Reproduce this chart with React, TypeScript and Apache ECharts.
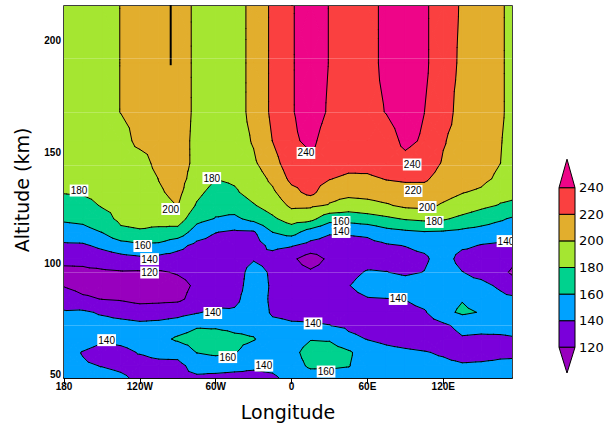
import React, { useEffect, useRef } from 'react';
import * as echarts from 'echarts';

// ---- grid coordinates ----
const lons = [-180, -165, -150, -135, -120, -105, -90, -75, -60, -45, -30, -15, 0, 15, 30, 45, 60, 75, 90, 105, 120, 135, 150, 165, 180];
const alts = [216, 190, 168, 155, 145, 138, 132, 126, 120, 114, 108, 102, 96, 90, 84, 78, 72, 66, 60, 54, 48];

// ---- temperature rows (one per altitude, west to east) ----
const t216 = [190, 190, 192, 200.5, 206, 208, 208, 196.7, 190, 192.7, 205, 224, 239, 246, 239.6, 232, 236, 242.9, 246, 243, 230, 217.7, 210, 202.5, 191];
const t190 = [190, 190, 192, 200.5, 206, 208, 208, 196.7, 190, 192.7, 205, 224, 239, 246, 239.6, 232, 236, 242.9, 246, 243, 230, 216, 210, 202.5, 191];
const t168 = [190, 190, 192, 200.5, 206, 208, 208, 196.7, 190, 192.7, 205, 224, 239, 246, 238.5, 232, 236, 240.5, 246, 240.1, 230, 211, 209, 202.5, 191];
const t155 = [188, 189, 191, 191.6, 206, 207, 207, 195.9, 190, 192, 201.5, 220.3, 237.6, 243, 234, 229, 230, 234, 243, 238.3, 221.5, 212, 210, 201, 191];
const t145 = [186, 187, 189, 190, 190.3, 207, 207, 196, 188, 190, 197.2, 212, 232, 236, 235, 229, 228, 234, 236, 232, 218, 212, 208, 200.2, 190];
const t138 = [184, 185, 187, 188, 188, 200.5, 207, 192, 180.2, 183, 190.5, 204, 225, 228, 221, 215, 216, 221, 223, 223, 212, 210, 205, 196, 188];
const t132 = [181, 182, 185, 186, 186, 197.8, 205, 185, 172.9, 177.5, 188, 197, 214, 226, 207, 206, 207, 210, 212, 212, 207, 201, 197, 186, 184];
const t126 = [173, 174, 181.3, 184, 184, 194, 200.5, 178, 166, 167.8, 178.5, 189, 203.5, 203, 198.5, 191.3, 193.8, 198, 203.8, 205, 197.8, 191.2, 184.4, 178.8, 176];
const t120 = [163, 165, 173.3, 184, 186, 187, 190, 166.3, 159, 156.4, 165.5, 176.6, 189, 186, 167, 167.4, 171.4, 176.2, 181.5, 184, 182.2, 175.2, 169, 162.4, 155];
const t114 = [150.5, 153, 160.3, 176, 178, 175.1, 172.2, 150.2, 140.5, 137, 138, 160.2, 167.5, 151, 142, 142.5, 144, 153, 156.4, 158.9, 158, 155.3, 152.4, 149, 146.4];
const t108 = [137, 137.4, 144.1, 151.4, 156.5, 155.8, 145.6, 135, 132, 130, 132, 145, 141.5, 134, 132, 132, 134, 138, 140.5, 145, 150, 143.6, 139, 137, 135];
const t102 = [125.4, 125.2, 130, 133.5, 135.9, 133.8, 132, 130, 128, 128, 138, 132, 124, 110, 124, 127, 130, 133, 134, 136.5, 150, 132, 132, 130, 124];
const t96 = [115, 116, 117, 118.5, 118, 118, 121.6, 126, 126, 128, 150, 136, 128, 123, 128, 133, 142, 140.5, 136.5, 140.5, 152, 140.5, 134, 126, 112];
const t90 = [119, 114, 113, 112, 110, 110, 114, 123, 126, 130, 152, 137, 132, 131, 130, 139, 150, 153, 150, 154, 156, 146, 145, 137, 126];
const t84 = [129.9, 122.9, 119.5, 118, 114, 115, 116, 127, 129, 135, 152, 136, 136, 135, 133, 133, 138.5, 139.5, 140.5, 147, 153, 159, 152, 145, 142];
const t78 = [142, 143, 137.6, 133.2, 130.6, 131, 133.5, 138.5, 144, 143, 152, 137.5, 136, 136, 136, 134, 132, 132, 134, 138, 155, 163, 159, 148, 147];
const t72 = [148, 149, 148, 147, 144.5, 146, 150, 158, 157, 155, 155, 145, 142, 141.5, 140.3, 137, 134, 131, 130, 131, 136, 146, 145, 146, 147];
const t66 = [150, 150, 143, 144, 147, 154, 163, 168, 170, 164, 161, 150, 150, 159, 158, 144, 139.5, 136, 133, 131, 130, 138, 137, 137, 139];
const t60 = [148, 139, 133, 136, 141, 145, 146, 160.5, 164, 161, 152, 152, 154, 168, 170, 163, 149, 145, 143, 141, 138, 133, 133, 136, 137];
const t54 = [146, 142, 139.5, 137, 134, 135, 135, 147, 148, 146, 143, 145, 152, 163, 163, 161, 150, 148, 147, 145, 144, 142, 143, 144, 144];
const t48 = [145, 144, 146, 143, 137, 136, 137, 136, 134, 133, 134, 136, 146, 150, 150, 150, 151, 150, 149, 148, 147, 146, 146, 146, 146];

// ---- contour levels / colours ----
const levels = [120, 140, 160, 180, 200, 220, 240];
const bandColors = ['#9800BE', '#7A00DA', '#00A2FF', '#00D28E', '#A5E631', '#E2AE2D', '#FA4040', '#EE0588'];

// ---- axes ----
const xTickValues = [-180, -120, -60, 0, 60, 120];
const xTickLabels = ['180', '120W', '60W', '0', '60E', '120E'];
const yTickValues = [50, 100, 150, 200];

// ---- contour labels [lon, alt, text] ----
const labelLon = [-168.1, -95.6, -63.1, 11.4, 95.4, 96.2, 107.3, 112.9, 39.2, 39.2, 169.6, -117.7, -112.3, -112.3, 84.3, -62.3, 17.0, -146.3, -50.4, -21.9, 27.3];
const labelAlt = [132.7, 124.4, 138.3, 149.6, 144.4, 132.5, 125.3, 118.6, 118.6, 114.1, 110.0, 107.8, 101.9, 95.9, 84.0, 77.7, 73.0, 65.5, 57.9, 54.1, 51.4];
const labelText = ['180', '200', '180', '240', '240', '220', '200', '180', '160', '140', '140', '160', '140', '120', '140', '140', '140', '140', '160', '140', '160'];

// thin black spike at top-left
const spikeLon = [-95.6, -95.6];
const spikeAlt = [216, 189];
// faint horizontal seams
const seamAlts = [72, 96, 144, 168, 192];

const field = [t216, t190, t168, t155, t145, t138, t132, t126, t120, t114, t108, t102, t96, t90, t84, t78, t72, t66, t60, t54, t48]
  .map(r => r.map(v => v + 0.0013));

type P = [number, number, number];

function bandOf(v: number) {
  let b = 0;
  for (const l of levels) if (v >= l) b++;
  return b;
}

function clipPoly(poly: P[], level: number, keepAbove: boolean): P[] {
  const out: P[] = [];
  for (let k = 0; k < poly.length; k++) {
    const a = poly[k], b = poly[(k + 1) % poly.length];
    const ina = keepAbove ? a[2] >= level : a[2] <= level;
    const inb = keepAbove ? b[2] >= level : b[2] <= level;
    if (ina) out.push(a);
    if (ina !== inb) {
      const t = (level - a[2]) / (b[2] - a[2]);
      out.push([a[0] + t * (b[0] - a[0]), a[1] + t * (b[1] - a[1]), level]);
    }
  }
  return out;
}

const cells: number[][] = [];
for (let j = 0; j < alts.length - 1; j++) for (let i = 0; i < lons.length - 1; i++) cells.push([i, j]);

function cellCorners(i: number, j: number): P[] {
  return [
    [lons[i], alts[j], field[j][i]],
    [lons[i + 1], alts[j], field[j][i + 1]],
    [lons[i + 1], alts[j + 1], field[j + 1][i + 1]],
    [lons[i], alts[j + 1], field[j + 1][i]],
  ];
}

function cellTris(c: P[]): P[][] {
  const ctr: P = [(c[0][0] + c[1][0]) / 2, (c[0][1] + c[3][1]) / 2, (c[0][2] + c[1][2] + c[2][2] + c[3][2]) / 4];
  return [[c[0], c[1], ctr], [c[1], c[2], ctr], [c[2], c[3], ctr], [c[3], c[0], ctr]];
}

function renderFill(params: any, api: any) {
  const [i, j] = cells[params.dataIndex];
  const c = cellCorners(i, j);
  const toPx = (pts: P[]) => pts.map(p => api.coord([p[0], p[1]]));
  const children: any[] = [];
  const bands = c.map(p => bandOf(p[2]));
  if (bands.every(b => b === bands[0])) {
    const col = bandColors[bands[0]];
    children.push({ type: 'polygon', silent: true, shape: { points: toPx(c) }, style: { fill: col, stroke: col, lineWidth: 1 } });
  } else {
    for (const tri of cellTris(c)) {
      const vs = tri.map(p => p[2]);
      const bmin = bandOf(Math.min(...vs)), bmax = bandOf(Math.max(...vs));
      for (let b = bmin; b <= bmax; b++) {
        let poly: P[] = tri;
        if (b > 0) poly = clipPoly(poly, levels[b - 1], true);
        if (b < levels.length) poly = clipPoly(poly, levels[b], false);
        if (poly.length >= 3) {
          const col = bandColors[b];
          children.push({ type: 'polygon', silent: true, shape: { points: toPx(poly) }, style: { fill: col, stroke: col, lineWidth: 1, lineJoin: 'round' } });
        }
      }
    }
  }
  return { type: 'group', children };
}

function renderLines(params: any, api: any) {
  const [i, j] = cells[params.dataIndex];
  const c = cellCorners(i, j);
  const children: any[] = [];
  for (const tri of cellTris(c)) {
    for (const L of levels) {
      const pts: number[][] = [];
      for (let k = 0; k < 3; k++) {
        const a = tri[k], b = tri[(k + 1) % 3];
        if ((a[2] - L) * (b[2] - L) < 0) {
          const t = (L - a[2]) / (b[2] - a[2]);
          pts.push(api.coord([a[0] + t * (b[0] - a[0]), a[1] + t * (b[1] - a[1])]));
        }
      }
      if (pts.length === 2) {
        children.push({ type: 'line', silent: true, shape: { x1: pts[0][0], y1: pts[0][1], x2: pts[1][0], y2: pts[1][1] }, style: { stroke: '#000', lineWidth: 1, lineCap: 'round' } });
      }
    }
  }
  return { type: 'group', children };
}

function renderLabel(params: any, api: any) {
  const idx = params.dataIndex;
  const p = api.coord([labelLon[idx], labelAlt[idx]]);
  return {
    type: 'text', silent: true, x: p[0], y: p[1],
    style: {
      text: labelText[idx], fill: '#000', font: '10px "Liberation Sans"', align: 'center', verticalAlign: 'middle',
      backgroundColor: '#fff', padding: [1, 1, 0, 1], lineHeight: 11,
    },
  };
}

function buildGraphics() {
  const g: any[] = [];
  const cbX = 559, cbW = 16, cbBottom = 347.3, cbStep = 26.6;
  const nBox = bandColors.length - 2;
  for (let k = 1; k <= nBox; k++) {
    g.push({ type: 'rect', shape: { x: cbX, y: cbBottom - k * cbStep, width: cbW, height: cbStep }, style: { fill: bandColors[k], stroke: '#000', lineWidth: 1 } });
  }
  const top = cbBottom - nBox * cbStep;
  g.push({ type: 'polygon', shape: { points: [[cbX, top], [cbX + cbW, top], [cbX + cbW / 2, top - 28.5]] }, style: { fill: bandColors[bandColors.length - 1], stroke: '#000', lineWidth: 1 } });
  g.push({ type: 'polygon', shape: { points: [[cbX, cbBottom], [cbX + cbW, cbBottom], [cbX + cbW / 2, cbBottom + 25.7]] }, style: { fill: bandColors[0], stroke: '#000', lineWidth: 1 } });
  levels.forEach((lv, k) => {
    g.push({ type: 'text', x: cbX + cbW + 4, y: cbBottom - k * cbStep, style: { text: String(lv), font: '13px "DejaVu Sans"', fill: '#000', align: 'left', verticalAlign: 'middle' } });
  });
  g.push({ type: 'text', x: 288, y: 412, style: { text: 'Longitude', font: '19px "DejaVu Sans"', fill: '#000', align: 'center', verticalAlign: 'middle' } });
  g.push({ type: 'text', x: 22, y: 190, rotation: Math.PI / 2, style: { text: 'Altitude (km)', font: '19px "DejaVu Sans"', fill: '#000', align: 'center', verticalAlign: 'middle' } });
  return g;
}

function buildOption() {
  const cellCenters = cells.map(([i, j]) => [(lons[i] + lons[i + 1]) / 2, (alts[j] + alts[j + 1]) / 2]);
  const axisFont = { fontFamily: '"Liberation Sans"', fontSize: 10, fontWeight: 'bold', color: '#000' };
  return {
    animation: false,
    backgroundColor: '#fff',
    grid: { left: 64, top: 6, width: 448, height: 372, show: true, borderColor: '#000', borderWidth: 1.5, backgroundColor: 'transparent' },
    xAxis: {
      type: 'value', min: -180, max: 174.375,
      axisLine: { show: true, lineStyle: { color: '#000', width: 1.5 } },
      axisTick: { show: true, length: 6, lineStyle: { color: '#000', width: 1 }, customValues: xTickValues },
      axisLabel: { ...axisFont, margin: 3, customValues: xTickValues, formatter: (v: number) => { const k = xTickValues.indexOf(v); return k >= 0 ? xTickLabels[k] : ''; } },
      splitLine: { show: false },
    },
    yAxis: {
      type: 'value', min: 48.5, max: 215.6,
      axisLine: { show: true, lineStyle: { color: '#000', width: 1.5 } },
      axisTick: { show: true, length: 6, lineStyle: { color: '#000', width: 1 }, customValues: yTickValues },
      axisLabel: { ...axisFont, margin: 3, customValues: yTickValues },
      splitLine: { show: false },
    },
    graphic: buildGraphics(),
    series: [
      { type: 'custom', name: 'fill', renderItem: renderFill, data: cellCenters, clip: true, z: 1, silent: true },
      {
        type: 'line', name: 'spike', data: spikeLon.map((x, k) => [x, spikeAlt[k]]), showSymbol: false, symbol: 'none', clip: true, z: 2, silent: true,
        lineStyle: { color: '#000', width: 2 },
        markLine: { silent: true, symbol: ['none', 'none'], label: { show: false }, lineStyle: { color: 'rgba(255,255,255,0.22)', width: 1, type: 'solid' }, data: seamAlts.map(a => ({ yAxis: a })) },
      },
      { type: 'custom', name: 'lines', renderItem: renderLines, data: cellCenters, clip: true, z: 3, silent: true },
      { type: 'custom', name: 'labels', renderItem: renderLabel, data: labelLon.map((x, k) => [x, labelAlt[k]]), clip: true, z: 4, silent: true },
    ],
  };
}

export default function App() {
  const ref = useRef<HTMLDivElement>(null);
  useEffect(() => {
    document.body.style.margin = '0';
    const chart = echarts.init(ref.current!, null, { renderer: 'svg' });
    chart.setOption(buildOption() as any);
    return () => chart.dispose();
  }, []);
  return <div ref={ref} style={{ width: 607, height: 428 }} />;
}
